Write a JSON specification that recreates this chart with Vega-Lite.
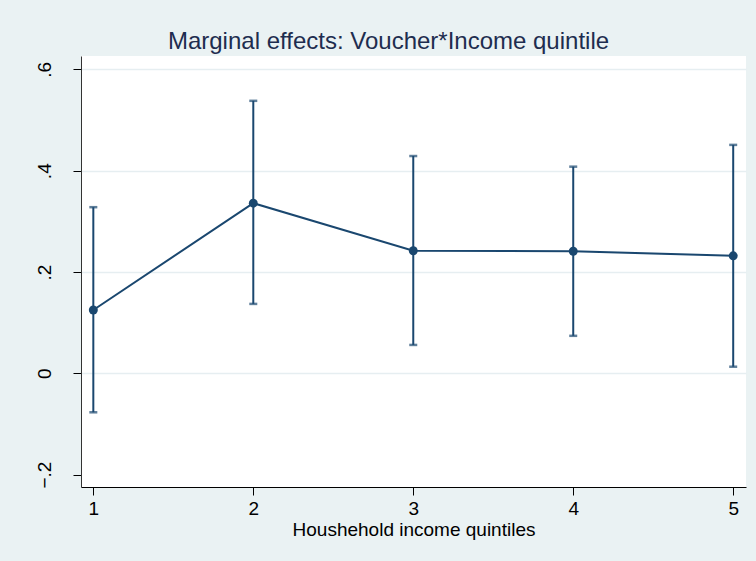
{
  "$schema": "https://vega.github.io/schema/vega-lite/v6.json",
  "autosize": {"type": "none"},
  "width": 665,
  "height": 431,
  "padding": {"left": 81, "top": 56, "right": 10, "bottom": 74},
  "background": "#EAF2F3",
  "title": {
    "text": "Marginal effects: Voucher*Income quintile",
    "font": "Liberation Sans",
    "fontSize": 24,
    "fontWeight": "normal",
    "color": "#1E2D4F",
    "anchor": "middle",
    "frame": "group",
    "baseline": "alphabetic",
    "offset": 7,
    "dx": -25,
    "dy": 24
  },
  "config": {
    "view": {"fill": "white", "stroke": null},
    "font": "Liberation Sans"
  },
  "data": {
    "values": [
      {"quintile": 1, "effect": 0.125, "lo": -0.077, "hi": 0.328},
      {"quintile": 2, "effect": 0.336, "lo": 0.137, "hi": 0.538},
      {"quintile": 3, "effect": 0.242, "lo": 0.056, "hi": 0.429},
      {"quintile": 4, "effect": 0.241, "lo": 0.074, "hi": 0.408},
      {"quintile": 5, "effect": 0.232, "lo": 0.013, "hi": 0.451}
    ]
  },
  "encoding": {
    "x": {
      "field": "quintile",
      "type": "quantitative",
      "scale": {"domain": [0.923, 5.08], "nice": false, "zero": false},
      "axis": {
        "title": "Houshehold income quintiles",
        "values": [1, 2, 3, 4, 5],
        "format": "d",
        "grid": false,
        "domainColor": "#000000",
        "domainWidth": 1,
        "tickColor": "#000000",
        "tickSize": 8,
        "tickWidth": 1,
        "labelFontSize": 19,
        "labelColor": "#000000",
        "labelFont": "Liberation Sans",
        "labelPadding": 4,
        "titleFontSize": 19,
        "titleFontWeight": "normal",
        "titleColor": "#000000",
        "titleFont": "Liberation Sans",
        "titlePadding": 2
      }
    }
  },
  "layer": [
    {
      "mark": {"type": "errorbar", "color": "#1A476F", "ticks": {"size": 8, "thickness": 2.5}, "rule": {"strokeWidth": 2}, "thickness": 2},
      "encoding": {
        "y": {
          "field": "lo",
          "type": "quantitative",
          "scale": {"domain": [-0.2245, 0.6265], "nice": false, "zero": false},
          "axis": {
            "title": null,
            "values": [-0.2, 0, 0.2, 0.4, 0.6],
            "labelExpr": "datum.value == 0 ? '0' : replace(format(datum.value, '.1f'), '0.', '.')",
            "labelAngle": -90,
            "labelFontSize": 19,
            "labelColor": "#000000",
            "labelFont": "Liberation Sans",
            "labelPadding": 19,
            "domainColor": "#333333",
            "domainWidth": 1,
            "tickColor": "#000000",
            "tickSize": 8,
            "tickWidth": 1,
            "grid": true,
            "gridColor": "#E6EEF1",
            "gridWidth": 1.5,
            "gridOpacity": {"condition": {"test": "datum.value < -0.1", "value": 0}, "value": 1}
          }
        },
        "y2": {"field": "hi"}
      }
    },
    {
      "mark": {"type": "line", "color": "#1A476F", "strokeWidth": 2},
      "encoding": {"y": {"field": "effect", "type": "quantitative"}}
    },
    {
      "mark": {"type": "point", "filled": true, "opacity": 1, "color": "#1A476F", "size": 80},
      "encoding": {"y": {"field": "effect", "type": "quantitative"}}
    }
  ]
}
